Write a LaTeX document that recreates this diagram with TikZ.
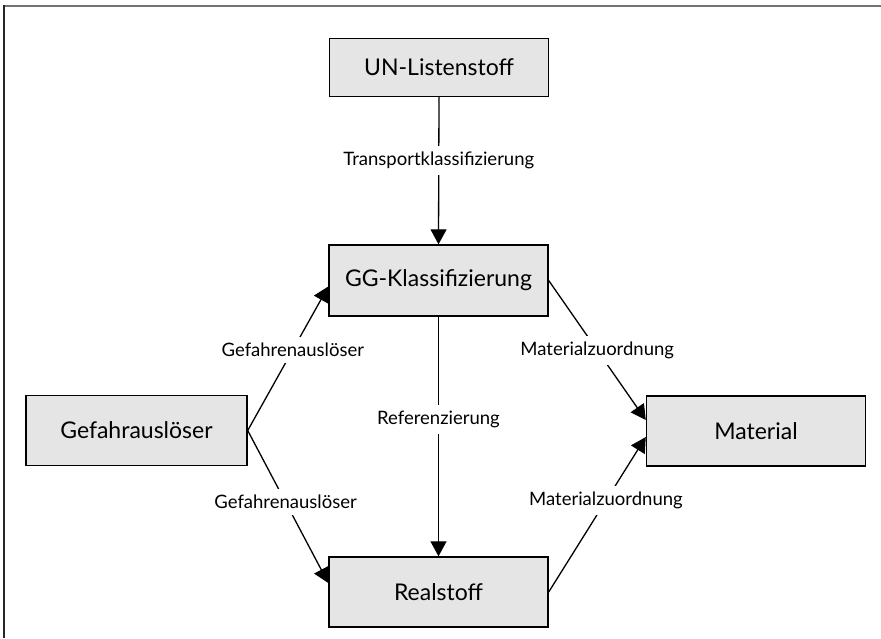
\documentclass[tikz,border=0pt]{standalone}
\usepackage{fontspec}
\setmainfont{Lato}
\usetikzlibrary{arrows.meta}
\begin{document}
\begin{tikzpicture}[x=1pt,y=-1pt,
  box/.style={draw=black, line width=1.4pt, fill=black!10, minimum width=219pt, minimum height=70pt, inner sep=0pt, font=\fontsize{23}{26}\selectfont},
  lbl/.style={fill=white, inner sep=6pt, font=\fontsize{18.5}{21}\selectfont},
  conn/.style={line width=1.3pt, -{Triangle[length=15pt,width=16pt]}}]
\useasboundingbox (0,0) rectangle (881,638);
\fill[white] (0,0) rectangle (881,638);
\draw[line width=2pt, black!55] (4,6) -- (881,6);
\draw[line width=2pt, black!85] (4,5) -- (4,638);
\node[box, minimum height=58pt] (un) at (439,67.5) {UN-Listenstoff};
\node[box, minimum height=71pt] (gg) at (438.5,280.5) {GG-Klassifizierung};
\node[box, minimum width=221pt] (gef) at (136.5,430.5) {Gefahrauslöser};
\node[box] (mat) at (756,431) {Material};
\node[box] (real) at (438.5,592) {Realstoff};
\draw[conn] (un.south) -- node[lbl, pos=0.43] {Transportklassifizierung} (gg.north);
\draw[conn] (gg.south) -- node[lbl, pos=0.43] {Referenzierung} (real.north);
\draw[conn] (gef.east) -- node[lbl, pos=0.56] {Gefahrenauslöser} ([yshift=-6pt]gg.west);
\draw[conn] (gef.east) -- node[lbl, pos=0.47] {Gefahrenauslöser} ([yshift=9pt]real.west);
\draw[conn] (gg.east) -- node[lbl, pos=0.5] {Materialzuordnung} ([yshift=11pt]mat.west);
\draw[conn] (real.east) -- node[lbl, pos=0.59] {Materialzuordnung} ([yshift=-6pt]mat.west);
\end{tikzpicture}
\end{document}
